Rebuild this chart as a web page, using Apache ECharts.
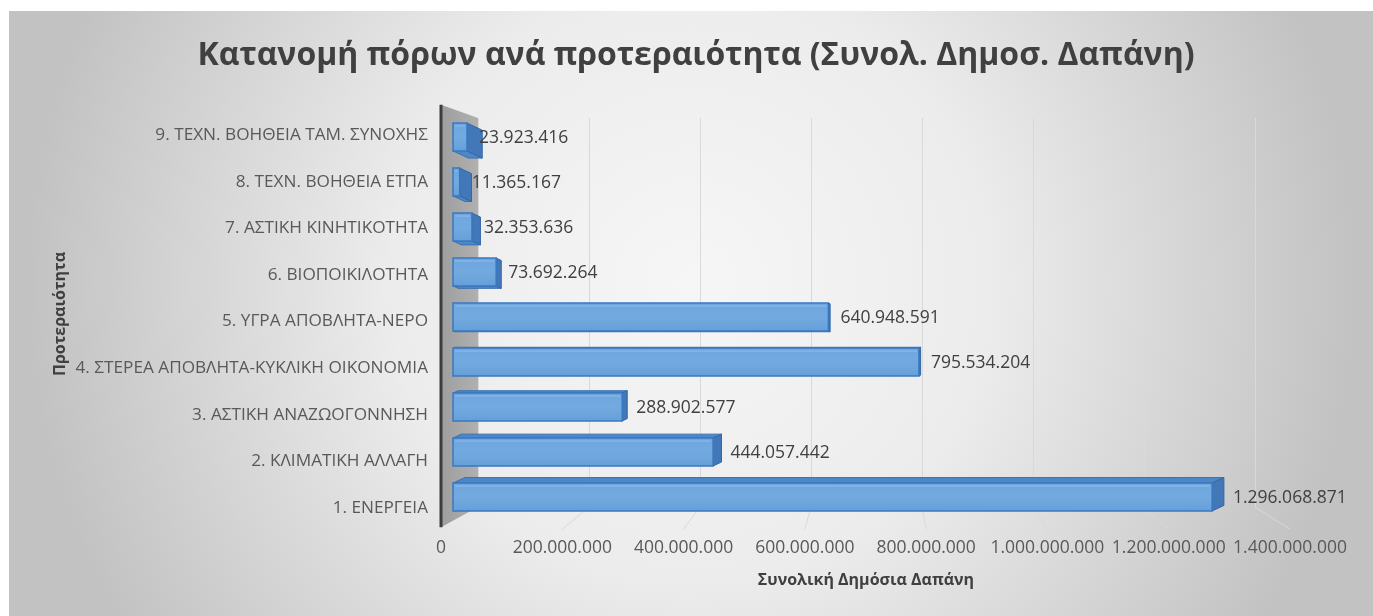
<!DOCTYPE html>
<html><head><meta charset="utf-8">
<script src="https://cdn.jsdelivr.net/npm/echarts@6/dist/echarts.min.js"></script>
<style>html,body{margin:0;padding:0;background:#fff}#c{width:1373px;height:616px}</style>
</head><body><div id="c"></div>
<script>
const categories = ['1. ΕΝΕΡΓΕΙΑ','2. ΚΛΙΜΑΤΙΚΗ ΑΛΛΑΓΗ','3. ΑΣΤΙΚΗ ΑΝΑΖΩΟΓΟΝΝΗΣΗ','4. ΣΤΕΡΕΑ ΑΠΟΒΛΗΤΑ-ΚΥΚΛΙΚΗ ΟΙΚΟΝΟΜΙΑ','5. ΥΓΡΑ ΑΠΟΒΛΗΤΑ-ΝΕΡΟ','6. ΒΙΟΠΟΙΚΙΛΟΤΗΤΑ','7. ΑΣΤΙΚΗ ΚΙΝΗΤΙΚΟΤΗΤΑ','8. ΤΕΧΝ. ΒΟΗΘΕΙΑ ΕΤΠΑ','9. ΤΕΧΝ. ΒΟΗΘΕΙΑ ΤΑΜ. ΣΥΝΟΧΗΣ'];
const values = [1296068871, 444057442, 288902577, 795534204, 640948591, 73692264, 32353636, 11365167, 23923416];
const xTicks = [0, 200000000, 400000000, 600000000, 800000000, 1000000000, 1200000000, 1400000000];
const titleText = 'Κατανομή πόρων ανά προτεραιότητα (Συνολ. Δημοσ. Δαπάνη)';
const yName = 'Προτεραιότητα';
const xName = 'Συνολική Δημόσια Δαπάνη';

const FONT = 'Open Sans';
const fmt = v => String(v).replace(/\B(?=(\d{3})+(?!\d))/g, '.');
const XMAX = xTicks[xTicks.length - 1], XINT = xTicks[1] - xTicks[0];

// layout (pixels)
const G0 = {left: 453, width: 820, top: 114.5, height: 405};   // bars (front plane)
const G1 = {left: 441, width: 849, top: 111.7, height: 419.5}; // label plane
const G2 = {left: 478, width: 777, top: 118, height: 389};     // back wall
const EYE = 340;

const chart = echarts.init(document.getElementById('c'), null, {renderer: 'canvas'});

function renderBar(params, api) {
  const v = api.value(0), c = api.value(1);
  const p0 = api.coord([0, c]), p1 = api.coord([v, c]);
  const cy = p0[1];
  const bw = api.size([0, 1])[1] * 0.62;
  const x0 = p0[0], x1 = p1[0], y0 = cy - bw / 2, y1 = cy + bw / 2;
  const dx = 0.075 * Math.abs(cy - EYE);
  const dy = (EYE - cy) * 0.035;
  const children = [];
  if (dy < 0) {
    children.push({type: 'polygon', shape: {points: [[x0, y0], [x0 + dx, y0 + dy], [x1 + dx, y0 + dy], [x1, y0]]},
      style: {fill: '#4d87c7', stroke: '#3b72b3', lineWidth: 1}});
  } else if (dy > 0) {
    children.push({type: 'polygon', shape: {points: [[x0, y1], [x0 + dx, y1 + dy], [x1 + dx, y1 + dy], [x1, y1]]},
      style: {fill: '#4d87c7', stroke: '#3b72b3', lineWidth: 1}});
  }
  children.push({type: 'polygon', shape: {points: [[x1, y0], [x1 + dx, y0 + dy], [x1 + dx, y1 + dy], [x1, y1]]},
    style: {fill: '#4278b8', stroke: '#3567a6', lineWidth: 1}});
  children.push({type: 'rect', shape: {x: x0, y: y0, width: x1 - x0, height: y1 - y0},
    style: {fill: {type: 'linear', x: 0, y: 0, x2: 0, y2: 1, colorStops: [
      {offset: 0, color: '#6da6de'}, {offset: 0.5, color: '#72aae0'}, {offset: 1, color: '#669fd8'}]},
      stroke: '#3a78c2', lineWidth: 1.5}});
  children.push({type: 'line', shape: {x1: x0 + 2, y1: y0 + 3, x2: x1 - 2, y2: y0 + 3},
    style: {stroke: 'rgba(255,255,255,0.25)', lineWidth: 1}});
  const lx = x1 + (dy < 0 ? Math.max(12, dx + 9) : 12);
  children.push({type: 'text', style: {text: fmt(v), x: lx, y: cy + 1,
    textAlign: 'left', textVerticalAlign: 'middle', fill: '#404040', font: '17.5px "' + FONT + '"'}});
  return {type: 'group', children};
}

const option = {
  animation: false,
  backgroundColor: '#ffffff',
  grid: [
    Object.assign({containLabel: false}, G0),
    Object.assign({containLabel: false}, G1),
    Object.assign({containLabel: false}, G2)
  ],
  xAxis: [
    {gridIndex: 0, type: 'value', min: 0, max: XMAX, interval: XINT, show: false},
    {gridIndex: 1, type: 'value', min: 0, max: XMAX, interval: XINT,
      axisLine: {show: false}, axisTick: {show: false}, splitLine: {show: false},
      axisLabel: {margin: 8, color: '#595959', fontSize: 17.5, fontFamily: FONT, formatter: v => fmt(v)}},
    {gridIndex: 2, type: 'value', min: 0, max: XMAX, interval: XINT,
      axisLine: {show: false}, axisTick: {show: false}, axisLabel: {show: false},
      splitLine: {show: true, lineStyle: {color: '#d9d9d9', width: 1}}}
  ],
  yAxis: [
    {gridIndex: 0, type: 'category', data: categories, show: false},
    {gridIndex: 1, type: 'category', data: categories,
      axisLine: {show: false}, axisTick: {show: false},
      axisLabel: {margin: 13, color: '#595959', fontSize: 17.2, fontFamily: FONT}},
    {gridIndex: 2, type: 'category', data: categories, show: false}
  ],
  series: [{
    type: 'custom', xAxisIndex: 0, yAxisIndex: 0,
    data: values.map((v, i) => [v, i]),
    encode: {x: 0, y: 1},
    renderItem: renderBar,
    z: 10
  }]
};
chart.setOption(option);

const fx = v => chart.convertToPixel({xAxisIndex: 1}, v);
const bx = v => chart.convertToPixel({xAxisIndex: 2}, v);
const backBottom = G2.top + G2.height;
const frontBottom = G1.top + G1.height - 4;
const wallTop = G1.top - 7;
const gfx = [
  {type: 'rect', z: -20, silent: true, shape: {x: 9, y: 11, width: 1364, height: 605},
    style: {fill: {type: 'radial', x: 0.5, y: 0.45, r: 1.1, colorStops: [
      {offset: 0, color: '#f6f6f6'}, {offset: 0.45, color: '#ececec'}, {offset: 1, color: '#c2c2c2'}]}}},
  {type: 'polygon', z: 1, silent: true, shape: {points: [[fx(0), wallTop], [bx(0), G2.top], [bx(0), backBottom], [fx(0), frontBottom]]},
    style: {fill: {type: 'linear', x: 0, y: 0, x2: 1, y2: 0, colorStops: [{offset: 0, color: '#9e9e9e'}, {offset: 1, color: '#b0b0b0'}]}}},
  {type: 'line', z: 2, silent: true, shape: {x1: fx(0), y1: wallTop, x2: fx(0), y2: frontBottom},
    style: {stroke: '#3c3c3c', lineWidth: 3}},
  {type: 'text', z: 5, style: {text: titleText, x: 696, y: 56, textAlign: 'center', textVerticalAlign: 'middle',
    fill: '#404040', font: 'bold 32px "' + FONT + '"'}},
  {type: 'text', z: 5, rotation: Math.PI / 2, x: 60, y: 314, style: {text: yName, x: 0, y: 0, textAlign: 'center', textVerticalAlign: 'middle',
    fill: '#404040', font: 'bold 16px "' + FONT + '"'}},
  {type: 'text', z: 5, style: {text: xName, x: 866, y: 580, textAlign: 'center', textVerticalAlign: 'middle',
    fill: '#404040', font: 'bold 16px "' + FONT + '"'}}
];
xTicks.slice(1).forEach(t => {
  gfx.push({type: 'line', z: 1, silent: true, shape: {x1: bx(t), y1: backBottom, x2: fx(t), y2: frontBottom + 2},
    style: {stroke: '#d9d9d9', lineWidth: 1}});
});
chart.setOption({graphic: gfx});
</script>
</body></html>
